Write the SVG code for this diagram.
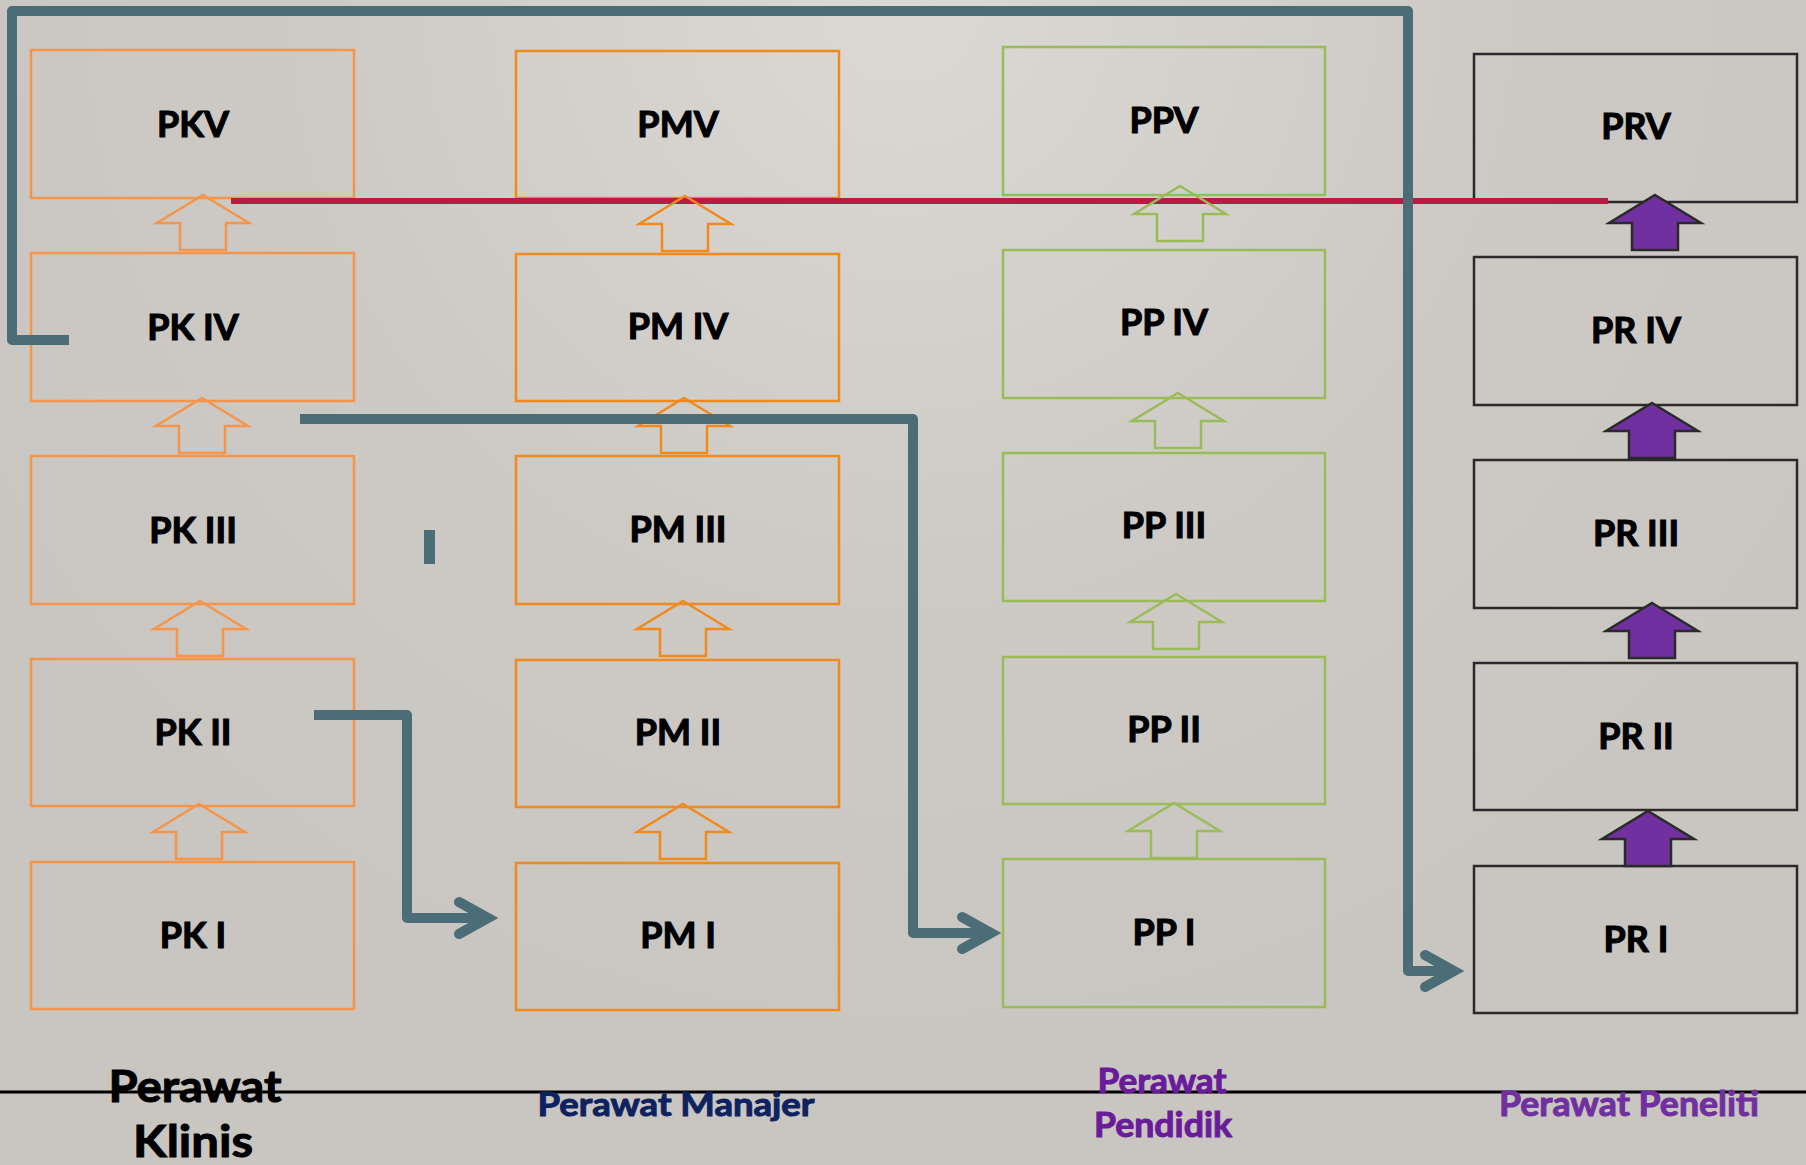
<svg xmlns="http://www.w3.org/2000/svg" width="1806" height="1165" viewBox="0 0 1806 1165">
<defs>
<radialGradient id="bg" cx="900" cy="0" r="1100" gradientUnits="userSpaceOnUse">
<stop offset="0" stop-color="#dcd9d4"/>
<stop offset="0.55" stop-color="#cdcac5"/>
<stop offset="1" stop-color="#c9c6c1"/>
</radialGradient>
<path id="uparrow" d="M0,0 L46,28 L23,28 L23,55 L-23,55 L-23,28 L-46,28 Z"/>
<style>
.box{fill:none;stroke-width:2.5}
.k1{stroke:#f5954a}
.k2{stroke:#f08a1f}
.k3{stroke:#9bbb59}
.k4{stroke:#2a2a2a}
.lbl{font-family:Lato,"Open Sans","DejaVu Sans",sans-serif;font-weight:700;font-size:36px;fill:#000;stroke:#000;stroke-width:1.1;text-anchor:middle}
.cap{font-family:Lato,"Open Sans","DejaVu Sans",sans-serif;font-weight:700;stroke-width:1;text-anchor:middle}
.a1{fill:none;stroke:#f5954a;stroke-width:2.5;stroke-linejoin:miter}
.a2{fill:none;stroke:#f08a1f;stroke-width:2.5}
.a3{fill:none;stroke:#9bbb59;stroke-width:2.5}
.a4{fill:#7030a0;stroke:#2a2a2a;stroke-width:2.5}
.conn{fill:none;stroke:#4a6d78;stroke-width:10;stroke-linejoin:round}
.head{fill:none;stroke:#4a6d78;stroke-width:10;stroke-linejoin:miter;stroke-linecap:round}
</style>
</defs>
<rect x="0" y="0" width="1806" height="1165" fill="url(#bg)"/>

<!-- Column 1: Perawat Klinis -->
<g id="PKV"><rect class="box k1" x="31" y="50" width="323" height="148"/><text class="lbl" x="193" y="137">PKV</text></g>
<g id="PK-IV"><rect class="box k1" x="31" y="253" width="323" height="148"/><text class="lbl" x="193" y="340">PK IV</text></g>
<g id="PK-III"><rect class="box k1" x="31" y="456" width="323" height="148"/><text class="lbl" x="193" y="543">PK III</text></g>
<g id="PK-II"><rect class="box k1" x="31" y="659" width="323" height="147"/><text class="lbl" x="193" y="745">PK II</text></g>
<g id="PK-I"><rect class="box k1" x="31" y="862" width="323" height="147"/><text class="lbl" x="193" y="948">PK I</text></g>

<!-- Column 2: Perawat Manajer -->
<g id="PMV"><rect class="box k2" x="516" y="51" width="323" height="147"/><text class="lbl" x="678" y="137">PMV</text></g>
<g id="PM-IV"><rect class="box k2" x="516" y="254" width="323" height="147"/><text class="lbl" x="678" y="339">PM IV</text></g>
<g id="PM-III"><rect class="box k2" x="516" y="456" width="323" height="148"/><text class="lbl" x="678" y="542">PM III</text></g>
<g id="PM-II"><rect class="box k2" x="516" y="660" width="323" height="147"/><text class="lbl" x="678" y="745">PM II</text></g>
<g id="PM-I"><rect class="box k2" x="516" y="863" width="323" height="147"/><text class="lbl" x="678" y="948">PM I</text></g>

<!-- Column 3: Perawat Pendidik -->
<g id="PPV"><rect class="box k3" x="1003" y="47" width="322" height="148"/><text class="lbl" x="1164" y="133">PPV</text></g>
<g id="PP-IV"><rect class="box k3" x="1003" y="250" width="322" height="148"/><text class="lbl" x="1164" y="335">PP IV</text></g>
<g id="PP-III"><rect class="box k3" x="1003" y="453" width="322" height="148"/><text class="lbl" x="1164" y="538">PP III</text></g>
<g id="PP-II"><rect class="box k3" x="1003" y="657" width="322" height="147"/><text class="lbl" x="1164" y="742">PP II</text></g>
<g id="PP-I"><rect class="box k3" x="1003" y="859" width="322" height="148"/><text class="lbl" x="1164" y="945">PP I</text></g>

<!-- Column 4: Perawat Peneliti -->
<g id="PRV"><rect class="box k4" x="1474" y="54" width="323" height="148"/><text class="lbl" x="1636" y="139">PRV</text></g>
<g id="PR-IV"><rect class="box k4" x="1474" y="257" width="323" height="148"/><text class="lbl" x="1636" y="343">PR IV</text></g>
<g id="PR-III"><rect class="box k4" x="1474" y="460" width="323" height="148"/><text class="lbl" x="1636" y="546">PR III</text></g>
<g id="PR-II"><rect class="box k4" x="1474" y="663" width="323" height="147"/><text class="lbl" x="1636" y="749">PR II</text></g>
<g id="PR-I"><rect class="box k4" x="1474" y="866" width="323" height="147"/><text class="lbl" x="1636" y="952">PR I</text></g>

<!-- red line -->
<g id="red-line"><line x1="231" y1="201" x2="1608" y2="201" stroke="#b81c44" stroke-width="6"/></g>

<!-- progression arrows -->
<g id="progression-arrows">
<use href="#uparrow" class="a1" x="203" y="195"/>
<use href="#uparrow" class="a1" x="202" y="398"/>
<use href="#uparrow" class="a1" x="200" y="601"/>
<use href="#uparrow" class="a1" x="199" y="804"/>
<use href="#uparrow" class="a2" x="685" y="196"/>
<use href="#uparrow" class="a2" x="684" y="398"/>
<use href="#uparrow" class="a2" x="683" y="601"/>
<use href="#uparrow" class="a2" x="683" y="804"/>
<use href="#uparrow" class="a3" x="1180" y="186"/>
<use href="#uparrow" class="a3" x="1178" y="393"/>
<use href="#uparrow" class="a3" x="1176" y="594"/>
<use href="#uparrow" class="a3" x="1174" y="803"/>
<use href="#uparrow" class="a4" x="1655" y="195"/>
<use href="#uparrow" class="a4" x="1652" y="403"/>
<use href="#uparrow" class="a4" x="1652" y="603"/>
<use href="#uparrow" class="a4" x="1648" y="811"/>
</g>

<!-- connectors -->
<g id="connectors">
<path class="conn" d="M69,340 L12,340 L12,11 L1408,11 L1408,971 L1452,971"/>
<path class="head" d="M1425,955 L1454,971 L1425,987"/>
<path class="conn" d="M300,419 L913,419 L913,933 L989,933"/>
<path class="head" d="M962,917 L991,933 L962,949"/>
<path class="conn" d="M314,715 L407,715 L407,918 L486,918"/>
<path class="head" d="M459,902 L488,918 L459,934"/>
<rect x="424" y="530" width="11" height="34" fill="#4a6d78"/>
</g>

<!-- baseline -->
<line x1="0" y1="1092" x2="1806" y2="1092" stroke="#000" stroke-width="3"/>

<!-- column captions -->
<g id="captions">
<text class="cap" x="195" y="1102" font-size="44" fill="#000" stroke="#000" textLength="173" lengthAdjust="spacingAndGlyphs">Perawat</text>
<text class="cap" x="193" y="1157" font-size="44" fill="#000" stroke="#000" textLength="120" lengthAdjust="spacingAndGlyphs">Klinis</text>
<text class="cap" x="676" y="1116" font-size="33" fill="#0f2260" stroke="#0f2260" textLength="277" lengthAdjust="spacingAndGlyphs">Perawat Manajer</text>
<text class="cap" x="1162" y="1093" font-size="34" fill="#6a1b9a" stroke="#6a1b9a" textLength="129" lengthAdjust="spacingAndGlyphs">Perawat</text>
<text class="cap" x="1163" y="1137" font-size="34" fill="#6a1b9a" stroke="#6a1b9a" textLength="138" lengthAdjust="spacingAndGlyphs">Pendidik</text>
<text class="cap" x="1629" y="1116" font-size="34" fill="#7030a0" stroke="#7030a0" textLength="260" lengthAdjust="spacingAndGlyphs">Perawat Peneliti</text>
</g>
</svg>
